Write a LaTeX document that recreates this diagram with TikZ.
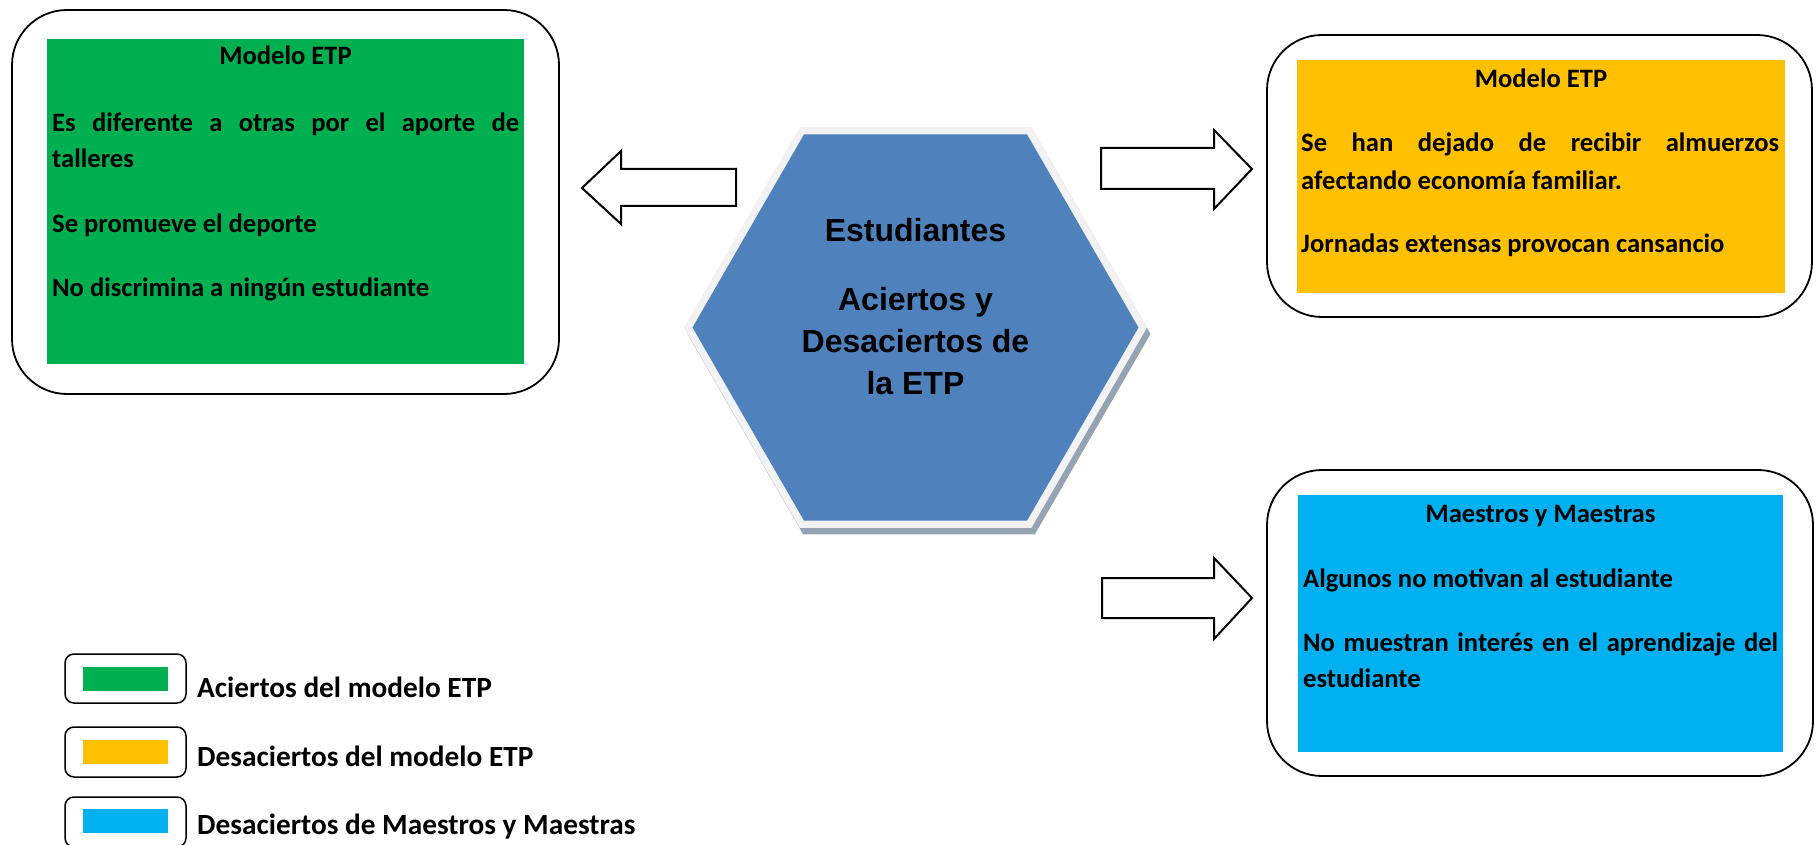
\documentclass[tikz,border=0pt]{standalone}
\usepackage{fontspec}
\setmainfont{Carlito}
\newfontfamily\arialf{Liberation Sans}
\definecolor{cgreen}{HTML}{00B050}
\definecolor{cyellow}{HTML}{FFC000}
\definecolor{cblue}{HTML}{00B0F0}
\definecolor{hexblue}{HTML}{4F81BD}
\definecolor{hexrim}{HTML}{F2F2F2}
\definecolor{hexshadow}{HTML}{95A3B3}
\tikzset{
  outerbox/.style={draw=black, line width=1.8pt, rounded corners=55pt},
  legbox/.style={draw=black, line width=1.5pt, rounded corners=9pt},
  blockarrow/.style={draw=black, fill=white, line width=2pt, line join=miter},
  bodytext/.style={inner sep=0pt, font=\fontsize{26.6}{36}\selectfont\bfseries},
  legtext/.style={inner sep=0pt, anchor=mid west, font=\fontsize{29.3}{34}\selectfont\bfseries},
  hextext/.style={inner sep=0pt, anchor=base, font=\arialf\fontsize{32}{38}\selectfont\bfseries},
}
\begin{document}
\begin{tikzpicture}[x=1pt,y=-1pt]
\useasboundingbox[fill=white] (0,0) rectangle (1818,845);

% left box
\draw[outerbox] (12,10) rectangle (559,394);
\fill[cgreen] (47,39) rectangle (524,364);
\node[bodytext, anchor=mid] (lt) at (285.5,62) {Modelo ETP};
\node[bodytext, anchor=mid west] (l1) at (52,129) {\makebox[467pt][s]{Es diferente a otras por el aporte de}};
\node[bodytext, anchor=mid west] (l2) at (52,165) {talleres};
\node[bodytext, anchor=mid west] (l3) at (52,230) {Se promueve el deporte};
\node[bodytext, anchor=mid west] (l4) at (52,294) {No discrimina a ningún estudiante};

% right top box
\draw[outerbox] (1267,35) rectangle (1812,317);
\fill[cyellow] (1297,60) rectangle (1785,293);
\node[bodytext, anchor=mid] (rt) at (1541,85) {Modelo ETP};
\node[bodytext, anchor=mid west] (r1) at (1301,149) {\makebox[478pt][s]{Se han dejado de recibir almuerzos}};
\node[bodytext, anchor=mid west] (r2) at (1301,187) {afectando economía familiar.};
\node[bodytext, anchor=mid west] (r3) at (1301,250) {Jornadas extensas provocan cansancio};

% right bottom box
\draw[outerbox] (1267,470) rectangle (1813,776);
\fill[cblue] (1298,495) rectangle (1783,752);
\node[bodytext, anchor=mid] (bt) at (1540.5,520) {Maestros y Maestras};
\node[bodytext, anchor=mid west] (b1) at (1303,585) {Algunos no motivan al estudiante};
\node[bodytext, anchor=mid west] (b2) at (1303,649) {\makebox[475pt][s]{No muestran interés en el aprendizaje del}};
\node[bodytext, anchor=mid west] (b3) at (1303,685) {estudiante};

% hexagon
\coordinate (hc) at (915.5,327.5);
\fill[hexshadow] ([shift={(3.5,6.5)}]hc) ++(0:231.5) -- ++(120:231.5) -- ++(180:231.5) -- ++(240:231.5) -- ++(300:231.5) -- ++(0:231.5) -- cycle;
\fill[hexrim] (hc) ++(0:231.5) -- ++(120:231.5) -- ++(180:231.5) -- ++(240:231.5) -- ++(300:231.5) -- ++(0:231.5) -- cycle;
\fill[hexblue] (hc) ++(0:223) -- ++(120:223) -- ++(180:223) -- ++(240:223) -- ++(300:223) -- ++(0:223) -- cycle;
\node[hextext] (h1) at (915.5,241) {Estudiantes};
\node[hextext] (h2) at (915.5,310) {Aciertos y};
\node[hextext] (h3) at (915.5,352) {Desaciertos de};
\node[hextext] (h4) at (915.5,394) {la ETP};

% block arrows
\draw[blockarrow] (582,188) -- (621,151) -- (621,169) -- (736,169) -- (736,206) -- (621,206) -- (621,224) -- cycle;
\draw[blockarrow] (1101,148) -- (1214,148) -- (1214,130) -- (1252,169) -- (1214,209) -- (1214,189) -- (1101,189) -- cycle;
\draw[blockarrow] (1102,578) -- (1214,578) -- (1214,558) -- (1252,598) -- (1214,639) -- (1214,618) -- (1102,618) -- cycle;

% legend
\draw[legbox] (65,654) rectangle (186,703);
\fill[cgreen] (83,667) rectangle (168,691);
\node[legtext] (g1) at (197,695) {Aciertos del modelo ETP};
\draw[legbox] (65,727) rectangle (186,777);
\fill[cyellow] (83,740) rectangle (168,764);
\node[legtext] (g2) at (197,764) {Desaciertos del modelo ETP};
\draw[legbox] (65,797) rectangle (186,847);
\fill[cblue] (83,809) rectangle (168,833);
\node[legtext] (g3) at (197,832) {Desaciertos de Maestros y Maestras};
\end{tikzpicture}
\end{document}
